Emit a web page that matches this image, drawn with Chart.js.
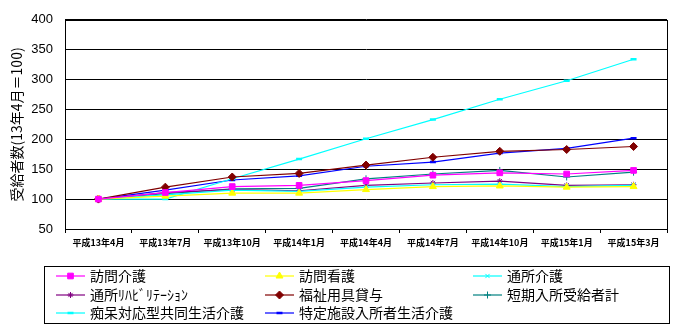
<!DOCTYPE html>
<html>
<head>
<meta charset="utf-8">
<script src="https://cdn.jsdelivr.net/npm/chart.js@4"></script>
<style>
	body { margin: 0; background: #fff; }
	canvas { display: block; }
</style>
</head>
<body>
<canvas id="kaigoChart" width="678" height="333"></canvas>
<script>
// 各サービス受給者数の推移（平成13年4月＝100）
var months = ["平成13年4月", "平成13年7月", "平成13年10月", "平成14年1月", "平成14年4月", "平成14年7月", "平成14年10月", "平成15年1月", "平成15年3月"];

var houmonKaigo = [100, 111, 121, 123, 131, 140, 144, 142, 148];
var houmonKango = [100, 105, 110, 110, 116, 121, 122, 120, 121];
var tsushoKaigo = [100, 107, 115, 113, 120, 124, 125, 121, 123];
var tsushoReha = [100, 111, 116, 114, 123, 127, 130, 123, 124];
var fukushiYogu = [100, 120, 137, 143, 157, 170, 180, 183, 188];
var tankiNyusho = [100, 109, 117, 118, 134, 142, 148, 137, 145];
var chiho = [100, 100, 134, 167, 201, 233, 267, 298, 334];
var tokutei = [100, 115, 132, 139, 155, 162, 177, 185, 202];

var yTicks = [50, 100, 150, 200, 250, 300, 350, 400];

function makeSeries(label, data, color, style, radius) {
	return {
		label: label,
		data: data,
		borderColor: color,
		backgroundColor: color,
		borderWidth: 1.2,
		pointStyle: style,
		pointRadius: radius,
		pointHoverRadius: radius,
		pointBorderWidth: style === "line" ? 2.5 : 1,
		pointBorderColor: color,
		pointBackgroundColor: color,
		tension: 0,
	};
}

var datasets = [
	makeSeries("訪問介護", houmonKaigo, "#ff00ff", "rect", 4),
	makeSeries("訪問看護", houmonKango, "#ffff00", "triangle", 4),
	makeSeries("通所介護", tsushoKaigo, "#00ffff", "crossRot", 3),
	makeSeries("通所ﾘﾊﾋﾞﾘﾃｰｼｮﾝ", tsushoReha, "#800080", "star", 3),
	makeSeries("福祉用具貸与", fukushiYogu, "#800000", "rectRot", 4),
	makeSeries("短期入所受給者計", tankiNyusho, "#008080", "cross", 3.5),
	makeSeries("痴呆対応型共同生活介護", chiho, "#00ffff", "line", 3),
	makeSeries("特定施設入所者生活介護", tokutei, "#0000ff", "line", 3),
];

// plot frame
var framePlugin = {
	id: "frame",
	afterDraw: function (chart) {
		var a = chart.chartArea;
		var ctx = chart.ctx;
		ctx.save();
		ctx.strokeStyle = "#000";
		ctx.lineWidth = 1;
		ctx.strokeRect(Math.round(a.left) + 0.5, Math.round(a.top) + 0.5, Math.round(a.right - a.left), Math.round(a.bottom - a.top));
		ctx.restore();
	},
};

// legend box, 3 columns
var boxLegendPlugin = {
	id: "boxLegend",
	afterDraw: function (chart) {
		var ctx = chart.ctx;
		ctx.save();
		ctx.strokeStyle = "#000";
		ctx.lineWidth = 1;
		ctx.strokeRect(44.5, 266.5, 625, 57);

		var colX = [56, 265, 473];
		var rowY = [276, 295, 313];
		ctx.font = "14px 'Noto Sans CJK JP'";
		ctx.textBaseline = "middle";
		chart.data.datasets.forEach(function (ds, i) {
			var x = colX[i % 3];
			var y = rowY[Math.floor(i / 3)];
			ctx.strokeStyle = ds.borderColor;
			ctx.fillStyle = ds.borderColor;
			ctx.lineWidth = 1.2;
			ctx.beginPath();
			ctx.moveTo(x, y);
			ctx.lineTo(x + 29, y);
			ctx.stroke();
			ctx.lineWidth = ds.pointBorderWidth;
			Chart.helpers.drawPoint(ctx, {
				pointStyle: ds.pointStyle,
				radius: ds.pointRadius,
				rotation: 0,
				borderWidth: ds.pointBorderWidth,
			}, x + 14.5, y);
			ctx.fillStyle = "#000";
			ctx.fillText(ds.label, x + 34, y);
		});
		ctx.restore();
	},
};

var kaigoChart = new Chart(document.getElementById("kaigoChart"), {
	type: "line",
	data: {
		labels: months,
		datasets: datasets,
	},
	plugins: [framePlugin, boxLegendPlugin],
	options: {
		responsive: false,
		animation: false,
		layout: {
			padding: { left: 0, top: 13, right: 11, bottom: 0 },
		},
		plugins: {
			legend: { display: false },
			tooltip: { enabled: false },
		},
		scales: {
			x: {
				offset: true,
				grid: {
					offset: true,
					drawOnChartArea: false,
					drawTicks: true,
					tickLength: 4,
					color: "#000",
				},
				border: { color: "#000" },
				ticks: {
					color: "#000",
					autoSkip: false,
					maxRotation: 0,
					padding: 4,
					font: { family: "'Noto Sans CJK JP'", size: 9, weight: "bold" },
				},
				afterFit: function (scale) {
					scale.height = 104;
				},
			},
			y: {
				min: 50,
				max: 400,
				afterBuildTicks: function (scale) {
					scale.ticks = yTicks.map(function (v) {
						return { value: v };
					});
				},
				grid: {
					color: "#000",
					lineWidth: 1,
					drawTicks: false,
				},
				border: { color: "#000" },
				ticks: {
					color: "#000",
					padding: 12,
					font: { family: "'Liberation Sans', Arial", size: 13 },
				},
				title: {
					display: true,
					text: "受給者数(13年4月＝100)",
					color: "#000",
					padding: { top: 8, bottom: 0 },
					font: { family: "'Noto Sans CJK JP'", size: 14 },
				},
				afterFit: function (scale) {
					scale.width = 65;
				},
			},
		},
	},
});
</script>
</body>
</html>
